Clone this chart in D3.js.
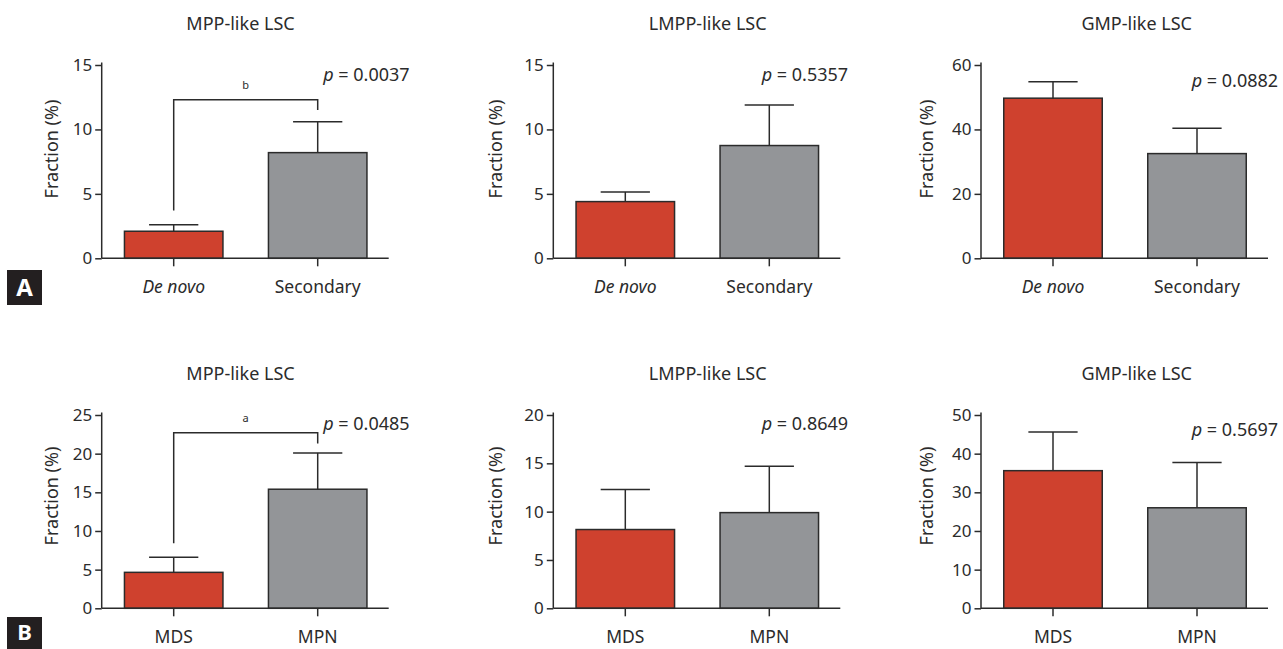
<!DOCTYPE html>
<html>
<head>
<meta charset="utf-8">
<script src="https://cdn.jsdelivr.net/npm/d3@7"></script>
<style>
  html, body { margin: 0; padding: 0; background: #ffffff; }
  svg { display: block; font-family: "Noto Sans", "Open Sans", sans-serif; }
</style>
</head>
<body>
<svg id="chart" width="1283" height="649"></svg>
<script>
// ---- data ----
const panelTitles = ["MPP-like LSC", "LMPP-like LSC", "GMP-like LSC"];

const groupsA = ["De novo", "Secondary"];
const meanA = [[2.1, 8.2], [4.4, 8.75], [49.7, 32.5]];
const semA  = [[0.5, 2.4], [0.75, 3.15], [5.1, 7.9]];
const yMaxA = [15, 15, 60];
const yStepA = [5, 5, 20];
const pValuesA = ["0.0037", "0.5357", "0.0882"];

const groupsB = ["MDS", "MPN"];
const meanB = [[4.65, 15.4], [8.15, 9.9], [35.6, 26.0]];
const semB  = [[1.95, 4.7], [4.15, 4.8], [10.0, 11.7]];
const yMaxB = [25, 20, 50];
const yStepB = [5, 5, 10];
const pValuesB = ["0.0485", "0.8649", "0.5697"];

// significance brackets: [panel index, bracket level, left leg end, right leg end, mark]
const bracketsA = [[0, 12.3, 3.7, 11.5, "b"]];
const bracketsB = [[0, 22.7, 8.4, 21.3, "a"]];

// ---- layout ----
const rows = [
  { tag: "A", groups: groupsA, mean: meanA, sem: semA, yMax: yMaxA, yStep: yStepA, p: pValuesA,
    brackets: bracketsA, italicGroups: ["De novo"], top: 65, bottom: 258.3, titleY: 30, labelY: 149,
    pY: [81, 81, 87.3], tagY: 270, tagH: 35, tagBase: 296, tagSize: 24 },
  { tag: "B", groups: groupsB, mean: meanB, sem: semB, yMax: yMaxB, yStep: yStepB, p: pValuesB,
    brackets: bracketsB, italicGroups: [], top: 415, bottom: 608.3, titleY: 380, labelY: 496,
    pY: [430, 430, 436], tagY: 617, tagH: 32, tagBase: 640, tagSize: 22 }
];
const axisX = [101.7, 553.3, 981];
const titleX = [240.5, 707.7, 1136.7];
const yLabelX = [57.5, 501.7, 933];
const pOffset = [221.5, 208.4, 210.7];
const plotW = 288;

const RED = "#cf412e", GREY = "#939598", INK = "#2b2b2b";

const svg = d3.select("#chart");

rows.forEach(row => {
  // row tag box
  svg.append("rect").attr("x", 7).attr("y", row.tagY).attr("width", 35).attr("height", row.tagH).attr("fill", "#231f20");
  svg.append("text").attr("x", 24.5).attr("y", row.tagBase).attr("text-anchor", "middle")
    .attr("fill", "#ffffff").attr("font-weight", 700).attr("font-size", row.tagSize).text(row.tag);

  panelTitles.forEach((title, i) => {
    const g = svg.append("g").attr("transform", `translate(${axisX[i]},0)`);
    const x = d3.scaleBand().domain(row.groups).range([0, plotW]).paddingInner(0.316).paddingOuter(0.158);
    const y = d3.scaleLinear().domain([0, row.yMax[i]]).range([row.bottom, row.top]);
    const ticks = d3.range(0, row.yMax[i] + 0.001, row.yStep[i]);

    // title
    svg.append("text").attr("x", titleX[i]).attr("y", row.titleY).attr("text-anchor", "middle")
      .attr("font-size", 18).attr("fill", INK).text(title);

    // y label
    svg.append("text").attr("transform", `translate(${yLabelX[i]},${row.labelY}) rotate(-90)`)
      .attr("text-anchor", "middle").attr("font-size", 18).attr("fill", INK).text("Fraction (%)");

    // bars
    const data = row.groups.map((k, j) => ({ k, m: row.mean[i][j], e: row.sem[i][j], c: j === 0 ? RED : GREY }));
    g.selectAll("rect.bar").data(data).join("rect").attr("class", "bar")
      .attr("x", d => x(d.k)).attr("width", x.bandwidth())
      .attr("y", d => y(d.m)).attr("height", d => y(0) - y(d.m))
      .attr("fill", d => d.c).attr("stroke", INK).attr("stroke-width", 1.5);

    // error bars (upper only)
    const cap = x.bandwidth() / 2;
    data.forEach(d => {
      const cx = x(d.k) + x.bandwidth() / 2;
      g.append("line").attr("x1", cx).attr("x2", cx).attr("y1", y(d.m)).attr("y2", y(d.m + d.e))
        .attr("stroke", INK).attr("stroke-width", 1.5);
      g.append("line").attr("x1", cx - cap / 2).attr("x2", cx + cap / 2).attr("y1", y(d.m + d.e)).attr("y2", y(d.m + d.e))
        .attr("stroke", INK).attr("stroke-width", 1.5);
    });

    // axes
    const ya = g.append("g").call(d3.axisLeft(y).tickValues(ticks).tickSize(6.5).tickPadding(3).tickFormat(d3.format("d")));
    ya.select(".domain").attr("d", `M0,${row.top - 2.5}V${row.bottom}`);
    const xa = g.append("g").attr("transform", `translate(0,${row.bottom})`)
      .call(d3.axisBottom(x).tickSize(8).tickPadding(14));
    xa.select(".domain").attr("d", `M0,0H${plotW - 1}`);
    [ya, xa].forEach(a => {
      a.selectAll(".domain, .tick line").attr("stroke", INK).attr("stroke-width", 1.5);
      a.selectAll("text").attr("fill", INK).attr("font-family", '"Noto Sans", sans-serif');
    });
    ya.selectAll("text").attr("font-size", 17);
    xa.selectAll("text").attr("font-size", 17.5)
      .attr("font-style", d => row.italicGroups.includes(d) ? "italic" : "normal").attr("dy", "0.71em");

    // p value
    const pt = svg.append("text").attr("x", axisX[i] + pOffset[i]).attr("y", row.pY[i])
      .attr("font-size", 18).attr("fill", INK);
    pt.append("tspan").attr("font-style", "italic").text("p");
    pt.append("tspan").text(" = " + row.p[i]);

    // significance bracket
    row.brackets.filter(b => b[0] === i).forEach(b => {
      const x1 = x(row.groups[0]) + x.bandwidth() / 2, x2 = x(row.groups[1]) + x.bandwidth() / 2;
      g.append("path").attr("fill", "none").attr("stroke", INK).attr("stroke-width", 1.5)
        .attr("d", `M${x1},${y(b[2])}V${y(b[1])}H${x2}V${y(b[3])}`);
      g.append("text").attr("x", (x1 + x2) / 2).attr("y", y(b[1]) - 11).attr("text-anchor", "middle")
        .attr("font-size", 11).attr("fill", INK).text(b[4]);
    });
  });
});
</script>
</body>
</html>
